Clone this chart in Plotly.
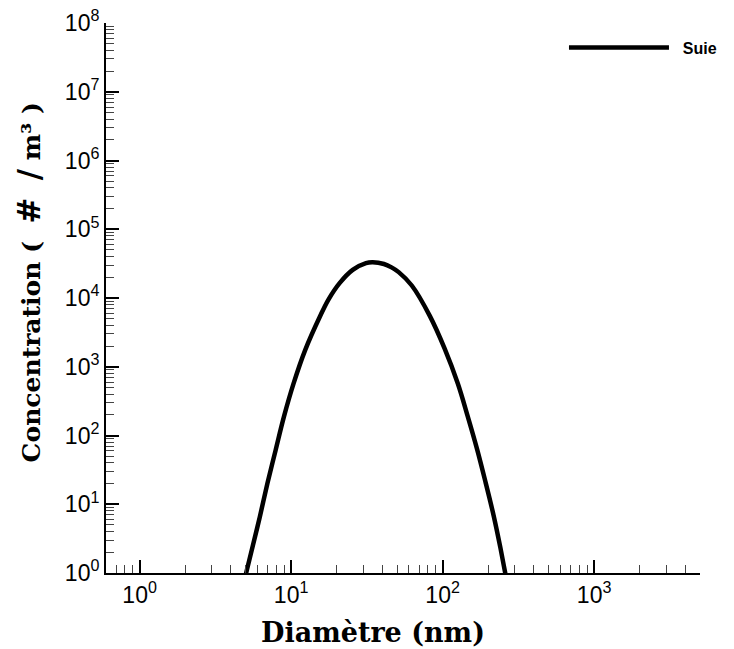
import plotly.graph_objects as go

# Data
diametre_nm = [4.7, 5.05, 5.50, 6.22, 6.98, 7.91, 8.97, 10.4, 12.4, 15.5, 17.6, 20.9,
               25.5, 31.2, 34.6, 41.0, 46.0, 51.3, 62.6, 82.3, 103, 126, 146, 169, 192,
               218, 241, 259, 278]
concentration = [0.5, 1.0, 2.16, 6.6, 20.2, 61.7, 188, 577, 1762, 5380, 9420, 16480,
                 25700, 32200, 33100, 31200, 27900, 23800, 15200, 5500, 1850, 570, 195, 63, 21,
                 6.6, 2.3, 1.0, 0.45]
serie_nom = "Suie"

x_major = [1, 10, 100, 1000]
x_major_text = ["10<sup>0</sup>", "10<sup>1</sup>", "10<sup>2</sup>", "10<sup>3</sup>"]
y_major = [10 ** k for k in range(0, 9)]
y_major_text = [f"10<sup>{k}</sup>" for k in range(0, 9)]

x_minor = [0.7, 0.8, 0.9] + [m * 10 ** d for d in range(0, 3) for m in range(2, 10)] + [2000, 3000, 4000, 5000]
y_minor = [m * 10 ** d for d in range(0, 8) for m in range(2, 10)]

nb = "\u00a0"
x_title = "<b>Diamètre (nm)</b>"
y_title = ("<b>Concentration" + nb + "(" + nb * 2
           + "<span style='font-size:31px'>#</span>" + nb * 2
           + "<span style='font-size:31px'>/</span>" + nb
           + "m³" + nb + ")</b>")

fig = go.Figure()
fig.add_trace(go.Scatter(
    x=diametre_nm, y=concentration, mode="lines", name=nb * 2 + serie_nom,
    line=dict(color="black", width=4.5, shape="spline", smoothing=1.0),
))

axis_common = dict(
    type="log", showgrid=False, zeroline=False, automargin=False,
    showline=True, linecolor="black", linewidth=2,
    ticks="inside", ticklen=13, tickwidth=2, tickcolor="black",
    tickfont=dict(family="Liberation Sans, Arial, sans-serif", size=23, color="black"),
    tickmode="array", mirror=False, ticklabeloverflow="allow",
)

fig.update_xaxes(
    **axis_common,
    range=[-0.2218, 3.699],
    tickvals=x_major, ticktext=x_major_text,
    minor=dict(tickmode="array", tickvals=x_minor, ticks="inside", ticklen=8,
               tickwidth=1, tickcolor="#444"),
)
fig.update_yaxes(
    **axis_common,
    range=[0, 8],
    tickvals=y_major, ticktext=y_major_text,
    minor=dict(tickmode="array", tickvals=y_minor, ticks="inside", ticklen=8,
               tickwidth=1, tickcolor="#444"),
)

fig.add_annotation(
    text=x_title, xref="paper", yref="paper", x=0.449, y=-0.109,
    showarrow=False, xanchor="center", yanchor="middle",
    font=dict(family="DejaVu Serif, serif", size=27, color="black"),
)
fig.add_annotation(
    text=y_title, xref="paper", yref="paper", x=-0.129, y=0.529,
    showarrow=False, xanchor="center", yanchor="middle", textangle=-90,
    font=dict(family="DejaVu Serif, serif", size=25, color="black"),
)

fig.update_layout(
    width=726, height=641,
    margin=dict(l=98, r=25, t=15, b=76),
    paper_bgcolor="white", plot_bgcolor="white",
    showlegend=True,
    legend=dict(
        x=0.771, y=0.986, xanchor="left", yanchor="top", xref="paper", yref="paper",
        itemwidth=100, bgcolor="rgba(0,0,0,0)", borderwidth=0,
        font=dict(family="Liberation Sans, Arial, sans-serif", size=16, color="black", weight="bold"),
    ),
)

fig.write_html("out.html")
